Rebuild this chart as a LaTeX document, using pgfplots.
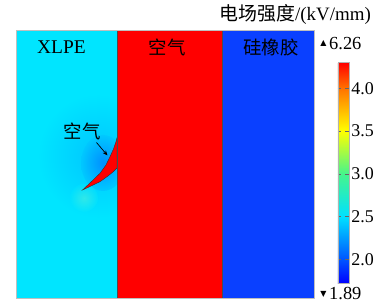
\documentclass[border=0pt]{standalone}
\usepackage{fontspec}
\setmainfont{Liberation Serif}
\newfontfamily\cjk{Noto Sans CJK SC}
\newfontfamily\sym{DejaVu Sans}
\usepackage{pgfplots}
\pgfplotsset{compat=1.18}
\usetikzlibrary{arrows.meta}
\definecolor{xlpe}{RGB}{0,229,255}
\definecolor{airc}{RGB}{255,0,0}
\definecolor{sil}{RGB}{10,64,255}
\begin{document}
\begin{tikzpicture}
\begin{axis}[
  at={(0,0)}, anchor=south west,
  scale only axis, width=374bp, height=306bp,
  xmin=0, xmax=374, ymin=0, ymax=306,
  hide axis, clip=false,
  colormap={comsol}{rgb255(172)=(0,0,255) rgb255(200)=(0,85,255) rgb255(250)=(0,225,255) rgb255(300)=(70,245,140) rgb255(350)=(255,255,0) rgb255(400)=(255,115,0) rgb255(430)=(255,0,0)},
  point meta min=1.72, point meta max=4.30,
  colorbar,
  colorbar style={
    at={(parent axis.south west)}, anchor=south west,
    xshift=329.3bp, yshift=22.7bp,
    scale only axis, width=11bp, height=220.6bp,
    ytick={2,2.5,3,3.5,4},
    ytick pos=both, yticklabel pos=right,
    tick align=inside, major tick length=3.5bp,
    tick style={black!60, line width=0.5pt},
    axis line style={black!30},
    yticklabel style={font=\fontsize{18}{20}\selectfont, xshift=-1bp,
      /pgf/number format/.cd, fixed, fixed zerofill, precision=1, assume math mode=true},
  },
]
% regions
\addplot[fill=xlpe, draw=none] coordinates {(16,8) (117,8) (117,276) (16,276)} -- cycle;
\addplot[fill=airc, draw=none] coordinates {(117,8) (221.7,8) (221.7,276) (117,276)} -- cycle;
\addplot[fill=sil, draw=none] coordinates {(221.7,8) (314,8) (314,276) (221.7,276)} -- cycle;
% field disturbance around the crack
\begin{scope}
\clip (axis cs:16,8) rectangle (axis cs:117,276);
\shade[inner color={rgb,255:red,0;green,198;blue,255}, outer color=xlpe] (axis cs:98,150) ellipse [x radius=60bp, y radius=62bp];
\shade[inner color={rgb,255:red,0;green,125;blue,255}, outer color={rgb,255:red,0;green,198;blue,255}, opacity=0.75] (axis cs:103,143) ellipse [x radius=22bp, y radius=28bp];
\shade[inner color={rgb,255:red,120;green,250;blue,200}, outer color=xlpe, opacity=0.4] (axis cs:84,108) ellipse [x radius=14bp, y radius=14bp];
\end{scope}
% crack
\addplot[fill=airc, draw=black!80, line width=0.4pt] coordinates {
 (82.5,116) (91,124) (100,132.7) (106,141) (110,149.3) (113.5,157) (116,164.3) (117.3,169.3)
 (117,137.7) (116.7,137.7) (113.3,134.3) (108,130) (100,124.3) (91,120) (82.5,116)} -- cycle;
% boundaries
\addplot[draw=black!70, line width=0.4pt] coordinates {(117,8) (117,276)};
\addplot[draw=black!70, line width=0.4pt] coordinates {(221.7,8) (221.7,276)};
\addplot[draw=black!25, line width=0.6pt] coordinates {(16,8) (314,8) (314,276) (16,276) (16,8)};
% arrow
\draw[-{Stealth[length=5bp,width=4bp]}, line width=0.7pt, black] (axis cs:96.5,163.5) -- (axis cs:107.5,150.5);
% labels
\node[font=\fontsize{19.5}{21}\selectfont] at (axis cs:61.5,259) {XLPE};
\node[font=\fontsize{18.5}{20}\selectfont\cjk] at (axis cs:167,259) {空气};
\node[font=\fontsize{18.5}{20}\selectfont\cjk] at (axis cs:271,259) {硅橡胶};
\node[font=\fontsize{18.5}{20}\selectfont\cjk] at (axis cs:82,175) {空气};
\node[font=\fontsize{19}{21}\selectfont, anchor=east, inner sep=0pt] at (axis cs:371,291) {{\cjk 电场强度}/(kV/mm)};
\node[font=\fontsize{8}{9}\selectfont\sym, inner sep=0pt] at (axis cs:323.5,262.5) {▲};
\node[font=\fontsize{18.5}{20}\selectfont, anchor=west, inner sep=0pt] at (axis cs:329,262.5) {6.26};
\node[font=\fontsize{8}{9}\selectfont\sym, inner sep=0pt] at (axis cs:323.5,12) {▼};
\node[font=\fontsize{18.5}{20}\selectfont, anchor=west, inner sep=0pt] at (axis cs:329,12) {1.89};
\end{axis}
\pgfresetboundingbox
\path (0,0) rectangle (374bp,306bp);
\end{tikzpicture}
\end{document}
